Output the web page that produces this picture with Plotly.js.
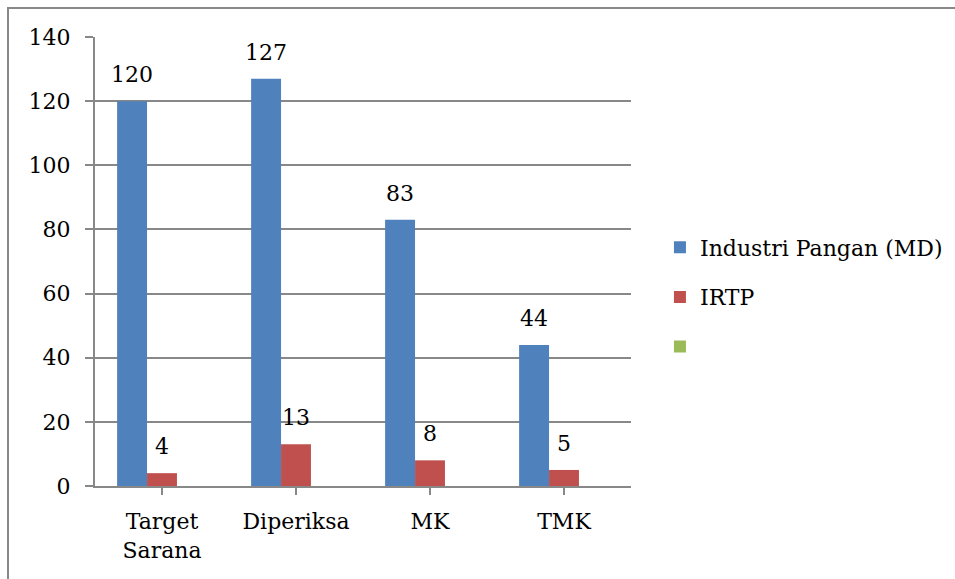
<!DOCTYPE html>
<html>
<head>
<meta charset="utf-8">
<script src="https://cdn.plot.ly/plotly-3.0.1.min.js"></script>
<style>
html,body{margin:0;padding:0;background:#fff;}
#chart{width:955px;height:579px;}
</style>
</head>
<body>
<div id="chart"></div>
<script>
var categories = ["Target<br>Sarana", "Diperiksa", "MK", "TMK"];
var seriesNames = ["Industri Pangan (MD)", "IRTP", ""];
var industriPangan = [120, 127, 83, 44];
var irtp = [4, 13, 8, 5];
var series3 = [null, null, null, null];
var colors = ["#4F81BD", "#C0504D", "#9BBB59"];
var yTicks = [0, 20, 40, 60, 80, 100, 120, 140];

var FONT = "DejaVu Serif, Liberation Serif, serif";
var FS = 22;
var bargap = 0.33;
var allSeries = [industriPangan, irtp, series3];
var idx = categories.map(function(_, j){ return j; });

var traces = allSeries.map(function(vals, i){
  return {
    type: "bar",
    x: idx,
    y: vals,
    name: seriesNames[i],
    legendgroup: "g" + i,
    marker: {color: colors[i], line: {width: 0}},
    hoverinfo: "skip"
  };
});

var barW = (1 - bargap) / allSeries.length;
var annotations = [];
allSeries.forEach(function(vals, i){
  vals.forEach(function(v, j){
    if (v === null) return;
    annotations.push({
      x: j + (i - 1) * barW,
      y: v,
      xref: "x", yref: "y",
      text: String(v),
      showarrow: false,
      yanchor: "bottom",
      yshift: 12,
      font: {family: FONT, size: FS, color: "#000"}
    });
  });
});

var layout = {
  width: 955, height: 579,
  margin: {l: 95, r: 324, t: 37, b: 93, autoexpand: false},
  paper_bgcolor: "#fff", plot_bgcolor: "#fff",
  barmode: "group",
  bargap: bargap,
  bargroupgap: 0,
  font: {family: FONT, size: FS, color: "#000"},
  xaxis: {
    tickvals: idx,
    ticktext: categories,
    range: [-0.5, categories.length - 0.5],
    tickson: "boundaries",
    ticks: "outside", ticklen: 7, tickwidth: 2, tickcolor: "#888",
    showline: true, linecolor: "#888", linewidth: 2,
    showgrid: false, zeroline: false,
    ticklabelstandoff: 8,
    automargin: false,
    tickfont: {family: FONT, size: FS, color: "#000"}
  },
  yaxis: {
    range: [0, 140],
    tickvals: yTicks,
    ticks: "outside", ticklen: 8, tickwidth: 2, tickcolor: "#888",
    showline: true, linecolor: "#888", linewidth: 2,
    showgrid: true, gridcolor: "#888", gridwidth: 2,
    zeroline: false,
    ticklabelstandoff: 10,
    automargin: false,
    tickfont: {family: FONT, size: FS, color: "#000"}
  },
  legend: {
    x: 1.054, xanchor: "left",
    y: 0.578, yanchor: "top",
    tracegroupgap: 18,
    traceorder: "grouped",
    font: {family: FONT, size: FS, color: "#000"},
    bgcolor: "rgba(0,0,0,0)"
  },
  annotations: annotations,
  shapes: [{
    type: "rect", xref: "paper", yref: "paper",
    x0: -0.1623, x1: 1.7, y0: -0.3, y1: 1.0646,
    line: {color: "#888", width: 2}, fillcolor: "rgba(0,0,0,0)", layer: "below"
  }]
};

Plotly.newPlot("chart", traces, layout, {displayModeBar: false, staticPlot: true});
</script>
</body>
</html>
